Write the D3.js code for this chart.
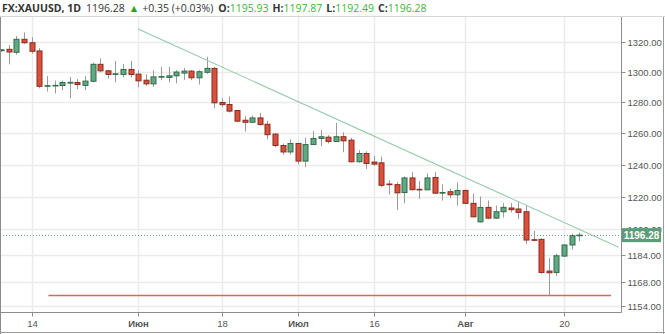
<!DOCTYPE html>
<html><head><meta charset="utf-8">
<script src="https://cdn.jsdelivr.net/npm/d3@7"></script>
<style>html,body{margin:0;padding:0;background:#fff;}svg{display:block;}</style>
</head><body>
<svg id="c" width="665" height="334"></svg>
<script>
// ---- data ----
const dates = ["2018-05-08","2018-05-09","2018-05-10","2018-05-11","2018-05-14","2018-05-15","2018-05-16","2018-05-17","2018-05-18",
"2018-05-21","2018-05-22","2018-05-23","2018-05-24","2018-05-25","2018-05-28","2018-05-29","2018-05-30","2018-05-31","2018-06-01",
"2018-06-04","2018-06-05","2018-06-06","2018-06-07","2018-06-08","2018-06-11","2018-06-12","2018-06-13","2018-06-14","2018-06-15",
"2018-06-18","2018-06-19","2018-06-20","2018-06-21","2018-06-22","2018-06-25","2018-06-26","2018-06-27","2018-06-28","2018-06-29",
"2018-07-02","2018-07-03","2018-07-04","2018-07-05","2018-07-06","2018-07-09","2018-07-10","2018-07-11","2018-07-12","2018-07-13",
"2018-07-16","2018-07-17","2018-07-18","2018-07-19","2018-07-20","2018-07-23","2018-07-24","2018-07-25","2018-07-26","2018-07-27",
"2018-07-30","2018-07-31","2018-08-01","2018-08-02","2018-08-03","2018-08-06","2018-08-07","2018-08-08","2018-08-09","2018-08-10",
"2018-08-13","2018-08-14","2018-08-15","2018-08-16","2018-08-17","2018-08-20","2018-08-21","2018-08-22"];
const opens = [1314.0,1314.9,1312.9,1321.6,1319.3,1313.8,1290.4,1290.8,1290.9,
1292.5,1292.9,1291.0,1293.7,1304.9,1300.6,1298.2,1298.2,1301.5,1298.4,
1294.4,1292.0,1296.5,1296.2,1297.3,1299.1,1300.4,1296.0,1299.6,1302.2,
1279.8,1278.5,1274.6,1268.3,1267.0,1269.8,1265.7,1259.4,1252.1,1248.0,
1253.4,1242.2,1252.7,1256.6,1257.4,1254.7,1257.7,1255.5,1241.8,1247.0,
1241.6,1241.1,1227.8,1227.4,1222.5,1231.6,1224.5,1224.2,1231.9,1222.2,
1223.0,1221.1,1223.8,1215.8,1204.4,1213.3,1206.7,1210.6,1212.9,1212.3,
1210.6,1193.5,1193.7,1174.6,1173.8,1183.6,1190.3,1195.93];
const highs = [1315.2,1317.8,1323.8,1326.3,1323.0,1315.6,1297.1,1294.2,1294.2,
1296.6,1295.1,1297.1,1306.0,1308.9,1301.0,1307.1,1305.1,1307.3,1301.0,
1298.4,1301.0,1303.2,1303.2,1301.0,1302.5,1301.0,1301.0,1309.9,1303.2,
1282.6,1283.7,1275.0,1271.0,1271.3,1273.0,1267.9,1259.8,1253.4,1256.0,
1253.8,1257.0,1261.3,1262.0,1258.7,1266.6,1260.5,1257.0,1249.1,1248.4,
1245.4,1245.0,1230.2,1229.1,1232.6,1235.4,1229.8,1234.4,1235.4,1227.6,
1224.9,1228.7,1224.3,1221.7,1220.0,1217.5,1214.4,1216.0,1216.0,1216.9,
1214.4,1198.8,1194.3,1182.4,1185.0,1190.9,1197.2,1197.87];
const lows = [1313.2,1304.9,1311.3,1318.5,1312.0,1289.1,1287.0,1285.7,1287.9,
1282.6,1288.5,1287.9,1293.0,1299.6,1295.5,1293.0,1296.2,1296.2,1289.7,
1290.6,1290.0,1294.4,1293.0,1292.3,1294.6,1294.4,1291.6,1298.6,1276.1,
1276.7,1273.3,1267.0,1261.0,1266.6,1264.9,1256.0,1251.2,1246.3,1246.3,
1240.1,1238.4,1252.7,1251.7,1253.4,1254.4,1247.8,1241.4,1241.2,1237.2,
1239.3,1225.9,1221.3,1211.7,1215.8,1223.7,1218.5,1224.0,1221.7,1217.5,
1219.0,1214.4,1215.4,1207.1,1203.9,1206.0,1206.2,1207.1,1210.2,1206.0,
1190.9,1192.5,1173.0,1160.2,1171.6,1183.0,1187.5,1192.49];
const closes = [1314.6,1313.1,1321.6,1319.3,1313.6,1290.4,1290.8,1291.0,1292.9,
1293.0,1291.6,1293.8,1304.9,1300.6,1298.2,1298.6,1301.5,1298.2,1294.0,
1292.0,1296.6,1296.8,1297.3,1299.8,1300.4,1296.0,1300.0,1302.2,1279.6,
1278.4,1274.2,1267.7,1267.0,1269.8,1265.5,1259.0,1252.1,1248.0,1253.4,
1242.2,1252.7,1256.6,1257.7,1254.7,1257.7,1255.1,1241.8,1247.0,1240.7,
1240.3,1227.0,1227.4,1222.3,1231.6,1224.3,1224.2,1231.6,1222.1,1222.5,
1221.1,1223.8,1215.8,1207.5,1213.3,1206.7,1210.6,1213.3,1211.9,1210.2,
1193.3,1193.3,1173.8,1173.6,1183.8,1190.3,1195.93,1196.28];

const yTicks = [1320,1300,1280,1260,1240,1220,1200,1184,1168,1154];
const xTickDates = ["2018-05-14","2018-06-01","2018-06-18","2018-07-02","2018-07-16","2018-08-01","2018-08-20"];
const xTickLabels = ["14","Июн","18","Июл","16","Авг","20"];
const xTickBold = [false,true,false,true,false,true,false];

const trendIdx = [18, 81.2];
const trendPrices = [1328.6, 1188.9];
const supportIdx = [6.2, 80.2];
const supportPrices = [1160.2, 1160.2];

const lastPrice = 1196.28;
const header = {sym:"FX:XAUUSD, 1D", last:"1196.28", chg:"+0.35 (+0.03%)", O:"1195.93", H:"1197.87", L:"1192.49", C:"1196.28"};

// ---- layout ----
const W = 665, H = 334;
const plot = {l:0, r:621.5, t:17, b:312};
const svg = d3.select("#c");

const x = d3.scaleLinear().domain([-0.17, 81.57]).range([plot.l, plot.r]);
const y = d3.scaleLog().domain([1150.4, 1336.7]).range([plot.b, plot.t]);

svg.append("defs").append("clipPath").attr("id","pc")
  .append("rect").attr("x",plot.l+1).attr("y",plot.t).attr("width",plot.r-plot.l-1).attr("height",plot.b-plot.t);

// gridlines
const grid = svg.append("g");
grid.selectAll("line.h").data(yTicks).join("line")
  .attr("x1",plot.l).attr("x2",plot.r)
  .attr("y1",d=>Math.round(y(d))+0.5).attr("y2",d=>Math.round(y(d))+0.5)
  .attr("stroke","#ebebeb").attr("stroke-width",1.5);
const xTickIdx = xTickDates.map(d=>dates.indexOf(d));
grid.selectAll("line.v").data(xTickIdx).join("line")
  .attr("y1",plot.t).attr("y2",plot.b)
  .attr("x1",d=>Math.round(x(d))+0.5).attr("x2",d=>Math.round(x(d))+0.5)
  .attr("stroke","#ebebeb").attr("stroke-width",1.5);

const pg = svg.append("g").attr("clip-path","url(#pc)");

// support line
const line = d3.line().x(d=>x(d[0])).y(d=>Math.round(y(d[1]))+0.5);
pg.append("path").attr("d", line(supportIdx.map((d,i)=>[d,supportPrices[i]])))
  .attr("stroke","#d8675c").attr("stroke-width",1.3).attr("fill","none");

// last price dotted line
pg.append("line").attr("x1",plot.l).attr("x2",plot.r)
  .attr("y1",Math.round(y(lastPrice))+0.5).attr("y2",Math.round(y(lastPrice))+0.5)
  .attr("stroke","#5f9f7c").attr("stroke-dasharray","1,2").attr("stroke-width",1);

// candles
const data = dates.map((d,i)=>({i, o:opens[i], h:highs[i], l:lows[i], c:closes[i]}));
const bw = 5;
const cg = pg.append("g");
cg.selectAll("line.w").data(data).join("line")
  .attr("x1",d=>Math.round(x(d.i))+0.5).attr("x2",d=>Math.round(x(d.i))+0.5)
  .attr("y1",d=>y(d.h)).attr("y2",d=>y(d.l))
  .attr("stroke","#9a9a9a").attr("stroke-width",1);
cg.selectAll("rect").data(data).join("rect")
  .attr("x",d=>Math.round(x(d.i))-bw/2+0.5)
  .attr("width",bw)
  .attr("y",d=>Math.min(y(d.o),y(d.c)))
  .attr("height",d=>Math.max(0.6,Math.abs(y(d.o)-y(d.c))))
  .attr("fill",d=>d.c>=d.o?"#62a883":"#d9503d")
  .attr("stroke",d=>d.c>=d.o?"#2f6d4b":"#8a2b1e")
  .attr("stroke-width",1);

// trend line
const tline = d3.line().x(d=>x(d[0])).y(d=>y(d[1]));
pg.append("path").attr("d", tline(trendIdx.map((d,i)=>[d,trendPrices[i]])))
  .attr("stroke","#93caa8").attr("stroke-width",1.1).attr("fill","none");

// frame lines
svg.append("line").attr("x1",0).attr("x2",W).attr("y1",plot.t-0.5).attr("y2",plot.t-0.5).attr("stroke","#d6d6d6");
svg.append("line").attr("x1",plot.l).attr("x2",plot.r).attr("y1",plot.b+0.5).attr("y2",plot.b+0.5).attr("stroke","#8c8c8c");
svg.append("line").attr("x1",plot.r).attr("x2",plot.r).attr("y1",plot.t).attr("y2",plot.b+0.5).attr("stroke","#8c8c8c");
svg.append("line").attr("x1",0.5).attr("x2",0.5).attr("y1",plot.t).attr("y2",H).attr("stroke","#8c8c8c");
svg.append("line").attr("x1",W-1.5).attr("x2",W-1.5).attr("y1",plot.t).attr("y2",H).attr("stroke","#9a9a9a");
svg.append("line").attr("x1",0).attr("x2",W).attr("y1",H-1.5).attr("y2",H-1.5).attr("stroke","#9a9a9a");

// y axis
const ya = svg.append("g").attr("font-family","'Liberation Sans', Arial, sans-serif").attr("font-size",9.5).attr("fill","#555");
yTicks.forEach(v=>{
  const yy = Math.round(y(v))+0.5;
  ya.append("line").attr("x1",plot.r).attr("x2",plot.r+4).attr("y1",yy).attr("y2",yy).attr("stroke","#8c8c8c");
  ya.append("text").attr("x",plot.r+6).attr("y",yy).attr("dy","0.35em").text(d3.format(".2f")(v));
});
// last price label
const ly = y(lastPrice);
svg.append("rect").attr("x",plot.r+0.5).attr("y",ly-7).attr("width",39).attr("height",14).attr("fill","#5c9d79");
svg.append("text").attr("x",plot.r+20).attr("y",ly).attr("dy","0.35em").attr("text-anchor","middle")
  .attr("font-family","'Liberation Sans', Arial, sans-serif").attr("font-size",10).attr("font-weight","bold")
  .attr("fill","#fff").text(d3.format(".2f")(lastPrice));

// x axis
const xa = svg.append("g").attr("font-family","'Liberation Sans', Arial, sans-serif").attr("font-size",9.5).attr("fill","#555");
xTickIdx.forEach((d,k)=>{
  const xx = Math.round(x(d))+0.5;
  xa.append("line").attr("x1",xx).attr("x2",xx).attr("y1",plot.b+0.5).attr("y2",plot.b+4.5).attr("stroke","#8c8c8c");
  xa.append("text").attr("x",xx).attr("y",plot.b+12).attr("dy","0.35em").attr("text-anchor","middle")
    .attr("font-weight",xTickBold[k]?"bold":"normal").text(xTickLabels[k]);
});

// header
const ht = svg.append("text").attr("x",2).attr("y",11.5)
  .attr("font-family","'Open Sans', sans-serif").attr("font-size",10.5).attr("fill","#333");
ht.append("tspan").attr("font-weight","bold").text(header.sym);
ht.append("tspan").attr("dx",5).text(header.last);
ht.append("tspan").attr("dx",4).attr("fill","#2aa52a").text("▲");
ht.append("tspan").attr("dx",3).text(header.chg);
[["O:",header.O],["H:",header.H],["L:",header.L],["C:",header.C]].forEach((p,k)=>{
  ht.append("tspan").attr("dx",k===0?5:4).attr("font-weight","bold").text(p[0]);
  ht.append("tspan").attr("fill","#3cb43c").text(p[1]);
});
</script>
</body></html>
